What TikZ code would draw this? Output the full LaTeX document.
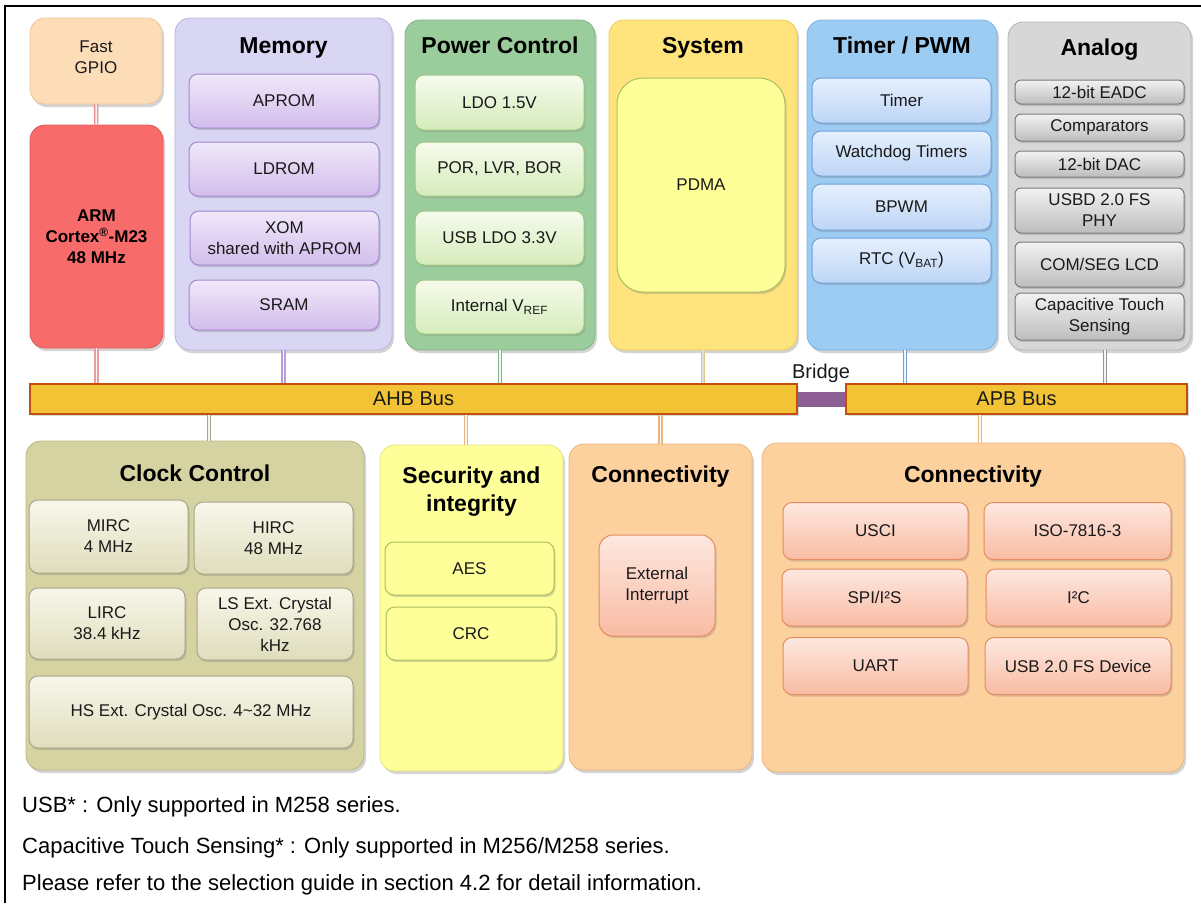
\documentclass[tikz,border=0pt]{standalone}
\usepackage{fontspec}
\setmainfont{Liberation Sans}
\usetikzlibrary{shadows}

\definecolor{ink}{HTML}{1A1A1A}
\definecolor{gpiofill}{HTML}{FCDDB8}
\definecolor{gpioline}{HTML}{EEC69A}
\definecolor{armfill}{HTML}{F76B6B}
\definecolor{armline}{HTML}{DE5A5A}
\definecolor{memfill}{HTML}{D8D6F2}
\definecolor{memline}{HTML}{B9B4E0}
\definecolor{memtop}{HTML}{F0E8FA}
\definecolor{membot}{HTML}{D3BDEC}
\definecolor{meminner}{HTML}{A488D0}
\definecolor{pwrfill}{HTML}{9BCD9C}
\definecolor{pwrline}{HTML}{80B682}
\definecolor{pwrtop}{HTML}{F6FBEC}
\definecolor{pwrbot}{HTML}{D5ECBB}
\definecolor{pwrinner}{HTML}{9FC780}
\definecolor{sysfill}{HTML}{FFE37C}
\definecolor{sysline}{HTML}{EFCB58}
\definecolor{pdmafill}{HTML}{FFFF99}
\definecolor{pdmaline}{HTML}{A9C062}
\definecolor{tmrfill}{HTML}{9DCCF2}
\definecolor{tmrline}{HTML}{7EB2DF}
\definecolor{tmrtop}{HTML}{E6F0FD}
\definecolor{tmrbot}{HTML}{BDD5F6}
\definecolor{tmrinner}{HTML}{6FA0DC}
\definecolor{anfill}{HTML}{D7D7D7}
\definecolor{anline}{HTML}{B4B4B4}
\definecolor{antop}{HTML}{F2F2F2}
\definecolor{anbot}{HTML}{BDBDBD}
\definecolor{aninner}{HTML}{7A7A7A}
\definecolor{busfill}{HTML}{F2C335}
\definecolor{busline}{HTML}{C2500C}
\definecolor{bridgefill}{HTML}{8E5F94}
\definecolor{clkfill}{HTML}{D6D3A2}
\definecolor{clkline}{HTML}{BAB683}
\definecolor{clktop}{HTML}{F8F7EB}
\definecolor{clkbot}{HTML}{DFDDBC}
\definecolor{clkinner}{HTML}{A8A589}
\definecolor{secfill}{HTML}{FFFF99}
\definecolor{secline}{HTML}{E2E27C}
\definecolor{confill}{HTML}{FCD19E}
\definecolor{conline}{HTML}{EBB57C}
\definecolor{contop}{HTML}{FDE8E0}
\definecolor{conbot}{HTML}{F9BBA3}
\definecolor{coninner}{HTML}{E48C62}

\newcommand\blkfont{\fontsize{17}{21}\selectfont}
\newcommand\ttlfont{\fontsize{23}{28}\selectfont\bfseries}

\tikzset{
  outer/.style={rounded corners=15pt, line width=0.8pt, inner sep=0pt,
    align=center, text=ink, font=\blkfont,
    drop shadow={shadow xshift=2pt, shadow yshift=-3pt, opacity=0.35}},
  inner/.style={rounded corners=9pt, line width=1pt, inner sep=0pt,
    align=center, text=ink, font=\blkfont,
    drop shadow={shadow xshift=1.5pt, shadow yshift=-2pt, opacity=0.3}},
  ttl/.style={inner sep=0pt, align=center, anchor=base, text=black, font=\ttlfont},
  bus/.style={draw=busline, fill=busfill, line width=1.5pt, inner sep=0pt,
    text=ink, font=\fontsize{20}{24}\selectfont,
    drop shadow={shadow xshift=1.5pt, shadow yshift=-2pt, opacity=0.3}},
  link/.style={draw=#1, line width=1.3pt, double=white!90!#1, double distance=1.7pt},
  note/.style={inner sep=0pt, anchor=west, text=black, font=\fontsize{22}{26}\selectfont}
}

\begin{document}
\begin{tikzpicture}[x=1pt, y=-1pt]
  \useasboundingbox (0,0) rectangle (1201,903);
  \draw[line width=2.5pt] (5,903) -- (5,6) -- (1201,6);

  % CPU column
  \node[outer, fill=gpiofill, draw=gpioline, minimum width=132, minimum height=86,
    label={[yshift=4pt, align=center, text=ink, font=\blkfont]center:Fast\\GPIO}] (gpio) at (96,61) {};
  \node[outer, fill=armfill, draw=armline, minimum width=133, minimum height=223, font=\blkfont\bfseries, text=black] (arm) at (96.5,236.5) {ARM\\Cortex\textsuperscript{®}-M23\\48 MHz};

  % Memory
  \node[outer, fill=memfill, draw=memline, minimum width=217, minimum height=332] (memory) at (283.5,184) {};
  \node[ttl] (memttl) at (283.5,53) {Memory};
  \node[inner, top color=memtop, bottom color=membot, draw=meminner, minimum width=190, minimum height=54] (aprom) at (284,101) {APROM};
  \node[inner, top color=memtop, bottom color=membot, draw=meminner, minimum width=190, minimum height=54] (ldrom) at (284,169) {LDROM};
  \node[inner, top color=memtop, bottom color=membot, draw=meminner, minimum width=189, minimum height=54] (xom) at (284.5,238) {XOM\\shared with APROM};
  \node[inner, top color=memtop, bottom color=membot, draw=meminner, minimum width=190, minimum height=50] (sram) at (284,305) {SRAM};

  % Power Control
  \node[outer, fill=pwrfill, draw=pwrline, minimum width=190, minimum height=330] (power) at (500,185) {};
  \node[ttl] (pwrttl) at (500,53) {Power Control};
  \node[inner, top color=pwrtop, bottom color=pwrbot, draw=pwrinner, minimum width=169, minimum height=55] (ldo) at (499.5,102.5) {LDO 1.5V};
  \node[inner, top color=pwrtop, bottom color=pwrbot, draw=pwrinner, minimum width=169, minimum height=54] (por) at (499.5,169) {POR, LVR, BOR};
  \node[inner, top color=pwrtop, bottom color=pwrbot, draw=pwrinner, minimum width=169, minimum height=54] (usbldo) at (499.5,238) {USB LDO 3.3V};
  \node[inner, top color=pwrtop, bottom color=pwrbot, draw=pwrinner, minimum width=169, minimum height=54] (vref) at (499.5,307) {Internal V\textsubscript{REF}};

  % System
  \node[outer, fill=sysfill, draw=sysline, minimum width=188, minimum height=330] (system) at (703,185) {};
  \node[ttl] (systtl) at (703,53) {System};
  \node[inner, rounded corners=26pt, fill=pdmafill, draw=pdmaline, minimum width=168, minimum height=214] (pdma) at (701,185) {PDMA};

  % Timer / PWM
  \node[outer, fill=tmrfill, draw=tmrline, minimum width=190, minimum height=330] (timer) at (902,185) {};
  \node[ttl] (tmrttl) at (902,53) {Timer / PWM};
  \node[inner, top color=tmrtop, bottom color=tmrbot, draw=tmrinner, minimum width=179, minimum height=45] (tmr) at (901.5,100.5) {Timer};
  \node[inner, top color=tmrtop, bottom color=tmrbot, draw=tmrinner, minimum width=179, minimum height=45] (wdt) at (901.5,153.5) {Watchdog Timers};
  \node[inner, top color=tmrtop, bottom color=tmrbot, draw=tmrinner, minimum width=179, minimum height=46] (bpwm) at (901.5,207) {BPWM};
  \node[inner, top color=tmrtop, bottom color=tmrbot, draw=tmrinner, minimum width=179, minimum height=45] (rtc) at (901.5,260.5) {RTC (V\textsubscript{BAT})};

  % Analog
  \node[outer, fill=anfill, draw=anline, minimum width=183, minimum height=328] (analog) at (1099.5,186) {};
  \node[ttl] (anttl) at (1099.5,55) {Analog};
  \node[inner, rounded corners=6pt, top color=antop, bottom color=anbot, draw=aninner, minimum width=169, minimum height=24] (eadc) at (1099.5,92) {12-bit EADC};
  \node[inner, rounded corners=6pt, top color=antop, bottom color=anbot, draw=aninner, minimum width=169, minimum height=27] (acmp) at (1099.5,127.5) {Comparators};
  \node[inner, rounded corners=6pt, top color=antop, bottom color=anbot, draw=aninner, minimum width=169, minimum height=26] (dac) at (1099.5,164) {12-bit DAC};
  \node[inner, rounded corners=6pt, top color=antop, bottom color=anbot, draw=aninner, minimum width=169, minimum height=45] (phy) at (1099.5,210.5) {USBD 2.0 FS\\PHY};
  \node[inner, rounded corners=6pt, top color=antop, bottom color=anbot, draw=aninner, minimum width=169, minimum height=45] (lcd) at (1099.5,264.5) {COM/SEG LCD};
  \node[inner, rounded corners=6pt, top color=antop, bottom color=anbot, draw=aninner, minimum width=169, minimum height=47] (touch) at (1099.5,316.5) {Capacitive Touch\\Sensing};

  % buses
  \node[draw=bridgefill, fill=bridgefill, inner sep=0pt, minimum width=52, minimum height=14] (bridge) at (821.5,399) {};
  \node[bus, minimum width=767, minimum height=30] (ahb) at (413.5,399) {AHB Bus};
  \node[bus, minimum width=341, minimum height=30] (apb) at (1016.5,399) {APB Bus};
  \node[inner sep=0pt, text=ink, font=\fontsize{20}{24}\selectfont] (brlbl) at (821,373) {Bridge};

  % Clock Control
  \node[outer, fill=clkfill, draw=clkline, minimum width=338, minimum height=329] (clock) at (195,605.5) {};
  \node[ttl] (clkttl) at (195,481) {Clock Control};
  \node[inner, top color=clktop, bottom color=clkbot, draw=clkinner, minimum width=159, minimum height=73] (mirc) at (108.5,536.5) {MIRC\\4 MHz};
  \node[inner, top color=clktop, bottom color=clkbot, draw=clkinner, minimum width=159, minimum height=72] (hirc) at (273.5,538) {HIRC\\48 MHz};
  \node[inner, top color=clktop, bottom color=clkbot, draw=clkinner, minimum width=156, minimum height=71] (lirc) at (107,623.5) {LIRC\\38.4 kHz};
  \node[inner, top color=clktop, bottom color=clkbot, draw=clkinner, minimum width=156, minimum height=72] (lxt) at (275,624) {LS Ext. Crystal\\Osc. 32.768\\kHz};
  \node[inner, top color=clktop, bottom color=clkbot, draw=clkinner, minimum width=324, minimum height=72] (hxt) at (191,712) {HS Ext. Crystal Osc. 4\textasciitilde32 MHz};

  % Security and integrity
  \node[outer, fill=secfill, draw=secline, minimum width=183, minimum height=326] (security) at (471.5,608) {};
  \node[ttl, anchor=center] (secttl) at (471.5,491.5) {Security and\\integrity};
  \node[inner, fill=pdmafill, draw=pdmaline, minimum width=169, minimum height=53] (aes) at (469.5,568.5) {AES};
  \node[inner, fill=pdmafill, draw=pdmaline, minimum width=170, minimum height=53] (crc) at (471,633.5) {CRC};

  % Connectivity on AHB
  \node[outer, fill=confill, draw=conline, minimum width=183, minimum height=326] (conahb) at (660.5,607) {};
  \node[ttl] (conahbttl) at (660.5,482) {Connectivity};
  \node[inner, rounded corners=14pt, top color=contop, bottom color=conbot, draw=coninner, minimum width=116, minimum height=101] (eint) at (657,585.5) {External\\Interrupt};

  % Connectivity on APB
  \node[outer, fill=confill, draw=conline, minimum width=422, minimum height=329] (conapb) at (973,607.5) {};
  \node[ttl] (conapbttl) at (973,482) {Connectivity};
  \node[inner, top color=contop, bottom color=conbot, draw=coninner, minimum width=185, minimum height=57] (usci) at (875.5,531) {USCI};
  \node[inner, top color=contop, bottom color=conbot, draw=coninner, minimum width=187, minimum height=57] (iso) at (1077.5,531) {ISO-7816-3};
  \node[inner, top color=contop, bottom color=conbot, draw=coninner, minimum width=185, minimum height=57] (spi) at (874.5,597.5) {SPI/I²S};
  \node[inner, top color=contop, bottom color=conbot, draw=coninner, minimum width=185, minimum height=57] (i2c) at (1078.5,597.5) {I²C};
  \node[inner, top color=contop, bottom color=conbot, draw=coninner, minimum width=185, minimum height=57] (uart) at (875.5,666) {UART};
  \node[inner, top color=contop, bottom color=conbot, draw=coninner, minimum width=186, minimum height=57] (usbd) at (1078,666) {USB 2.0 FS Device};

  % bus taps
  \coordinate (tmrtap) at (905,350);
  \coordinate (antap) at (1105,350);
  \coordinate (clktap) at (209,441);
  \coordinate (sectap) at (466,445);
  \coordinate (contap) at (980,443);
  \draw[link=armline!70] (gpio) -- (arm);
  \draw[link=armline!60] (arm.south) -- (arm.south |- ahb.north);
  \draw[link=meminner!80] (memory.south) -- (memory.south |- ahb.north);
  \draw[link=pwrline] (power.south) -- (power.south |- ahb.north);
  \draw[link=sysline!80!black!60] (system.south) -- (system.south |- ahb.north);
  \draw[link=tmrinner] (tmrtap) -- (tmrtap |- apb.north);
  \draw[link=aninner!80] (antap) -- (antap |- apb.north);
  \draw[link=clkinner] (ahb.south -| clktap) -- (clktap);
  \draw[link=conline] (ahb.south -| sectap) -- (sectap);
  \draw[link=conline] (ahb.south -| conahb.north) -- (conahb.north);
  \draw[link=conline] (apb.south -| contap) -- (contap);

  % notes
  \node[note] (note1) at (22,807) {USB* : Only supported in M258 series.};
  \node[note] (note2) at (22,848) {Capacitive Touch Sensing* : Only supported in M256/M258 series.};
  \node[note] (note3) at (22,885) {Please refer to the selection guide in section 4.2 for detail information.};
\end{tikzpicture}
\end{document}
